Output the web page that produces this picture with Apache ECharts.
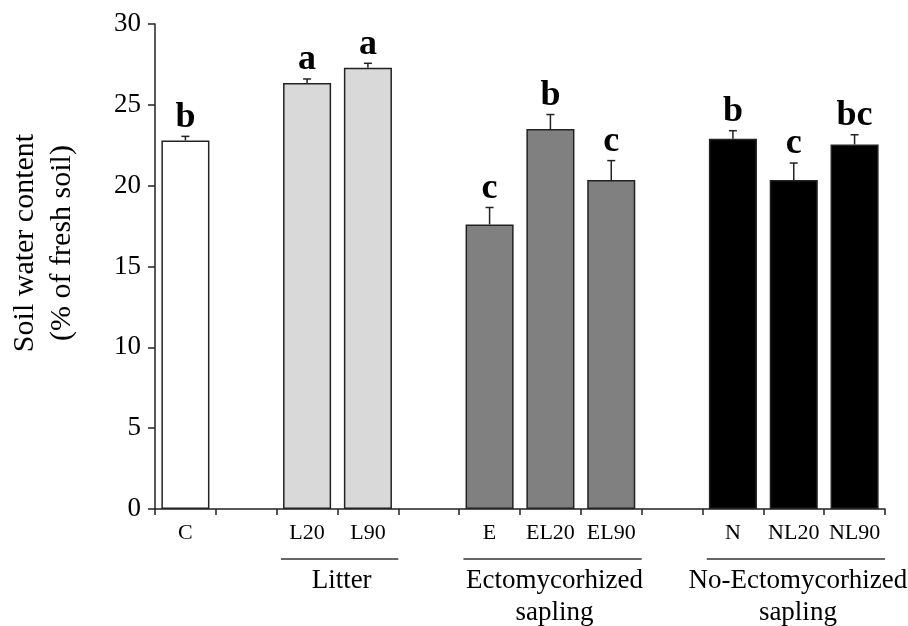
<!DOCTYPE html>
<html>
<head>
<meta charset="utf-8">
<script src="https://cdn.jsdelivr.net/npm/echarts@6/dist/echarts.min.js"></script>
<style>html,body{margin:0;padding:0;background:#fff}#c{width:908px;height:626px}</style>
</head>
<body>
<div id="c"></div>
<script>
// ---- data ----
var categories = ['C', '', 'L20', 'L90', '', 'E', 'EL20', 'EL90', '', 'N', 'NL20', 'NL90'];
var values     = [22.8, null, 26.35, 27.3, null, 17.6, 23.5, 20.35, null, 22.9, 20.35, 22.55];
var errors     = [0.25, null, 0.25, 0.27, null, 1.05, 0.9, 1.2, null, 0.5, 1.05, 0.6];
var letters    = ['b', '', 'a', 'a', '', 'c', 'b', 'c', '', 'b', 'c', 'bc'];
var groups     = ['C', '', 'L', 'L', '', 'E', 'E', 'E', '', 'N', 'N', 'N'];
var groupLabels = [
  {first: 'L20', last: 'L90', text: 'Litter'},
  {first: 'E', last: 'EL90', text: 'Ectomycorhized\nsapling'},
  {first: 'N', last: 'NL90', text: 'No-Ectomycorhized\nsapling'}
];
var yTitle = 'Soil water content\n(% of fresh soil)';

// ---- style ----
var groupColor = {C: '#ffffff', L: '#d9d9d9', E: '#808080', N: '#000000'};
var FONT = '"Liberation Serif", "Times New Roman", serif';

var barData = values.map(function (v, i) {
  if (v === null) return '-';
  return {value: v, itemStyle: {color: groupColor[groups[i]]}};
});
var errData = values.map(function (v, i) {
  return v === null ? [i, '-', '-'] : [i, v, errors[i]];
});

var chart = echarts.init(document.getElementById('c'));
chart.setOption({
  animation: false,
  backgroundColor: '#fff',
  grid: {left: 155, right: 23, top: 24, bottom: 117},
  xAxis: {
    type: 'category',
    data: categories,
    axisLine: {lineStyle: {color: '#222', width: 1.5}},
    axisTick: {show: true, length: 6, lineStyle: {color: '#222', width: 1.5}, interval: 0},
    axisLabel: {interval: 0, color: '#000', fontFamily: FONT, fontSize: 22, margin: 13}
  },
  yAxis: {
    type: 'value',
    min: 0, max: 30, interval: 5,
    splitLine: {show: false},
    axisLine: {show: true, lineStyle: {color: '#222', width: 1.5}},
    axisTick: {show: true, length: 7, lineStyle: {color: '#222', width: 1.5}},
    axisLabel: {color: '#000', fontFamily: FONT, fontSize: 27, margin: 14}
  },
  series: [
    {
      type: 'bar',
      data: barData,
      barWidth: '79%',
      itemStyle: {borderColor: '#222', borderWidth: 1.5}
    },
    {
      type: 'custom',
      data: errData,
      z: 5,
      renderItem: function (params, api) {
        var i = api.value(0), v = api.value(1), e = api.value(2);
        if (isNaN(v)) return null;
        var base = api.coord([i, v]);
        var top = api.coord([i, v + e]);
        var cap = 4;
        return {
          type: 'group',
          children: [
            {type: 'line', shape: {x1: base[0], y1: base[1], x2: top[0], y2: top[1]},
             style: {stroke: '#222', lineWidth: 1.5}},
            {type: 'line', shape: {x1: top[0] - cap, y1: top[1], x2: top[0] + cap, y2: top[1]},
             style: {stroke: '#222', lineWidth: 1.5}},
            {type: 'text', x: top[0], y: top[1] - 1,
             style: {text: letters[params.dataIndex], fill: '#000', font: 'bold 36px ' + FONT,
                     textAlign: 'center', textVerticalAlign: 'bottom'}}
          ]
        };
      }
    }
  ]
});

function drawExtras() {
  var band = chart.convertToPixel({xAxisIndex: 0}, categories[3]) - chart.convertToPixel({xAxisIndex: 0}, categories[2]);
  var baseY = chart.convertToPixel({yAxisIndex: 0}, 0);
  var elements = [];
  groupLabels.forEach(function (g) {
    var x1 = chart.convertToPixel({xAxisIndex: 0}, g.first) - band * 0.43;
    var x2 = chart.convertToPixel({xAxisIndex: 0}, g.last) + band * 0.5;
    var y = baseY + 50;
    elements.push({type: 'line', shape: {x1: x1, y1: y, x2: x2, y2: y},
                   style: {stroke: '#333', lineWidth: 1.5}, silent: true});
    elements.push({type: 'text', x: (x1 + x2) / 2 + 2, y: y + 6,
                   style: {text: g.text, fill: '#000', font: '27px ' + FONT, textAlign: 'center',
                           textVerticalAlign: 'top', lineHeight: 32}, silent: true});
  });
  elements.push({type: 'text', x: 44, y: 243, rotation: Math.PI / 2,
                 style: {text: yTitle, fill: '#000', font: '30px ' + FONT, textAlign: 'center',
                         textVerticalAlign: 'middle', lineHeight: 37}, silent: true});
  chart.setOption({graphic: elements});
}
drawExtras();
</script>
</body>
</html>
